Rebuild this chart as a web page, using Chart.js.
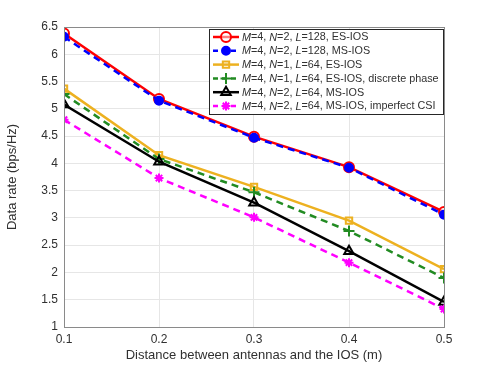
<!DOCTYPE html>
<html>
<head>
<meta charset="utf-8">
<script src="https://cdn.jsdelivr.net/npm/chart.js@4.4.1/dist/chart.umd.min.js"></script>
<style>
    html, body { margin: 0; padding: 0; background: #fff; }
    #wrap { width: 491px; height: 368px; }
</style>
</head>
<body>
<div id="wrap"><canvas id="rateChart" width="491" height="368"></canvas></div>
<script>
// distances (m)
const distances = [0.1, 0.2, 0.3, 0.4, 0.5];

// data rate (bps/Hz) for each scheme
const esIos128 = [6.38, 5.18, 4.49, 3.93, 3.11];
const msIos128 = [6.32, 5.15, 4.47, 3.92, 3.06];
const esIos64N1 = [5.37, 4.15, 3.57, 2.95, 2.06];
const esIos64Discrete = [5.27, 4.08, 3.47, 2.76, 1.90];
const msIos64 = [5.08, 4.03, 3.28, 2.39, 1.46];
const msIos64Imperfect = [4.80, 3.73, 3.01, 2.18, 1.33];

// legend pieces
const legendM = ['4', '4', '4', '4', '4', '4'];
const legendN = ['2', '2', '1', '1', '2', '2'];
const legendL = ['128', '128', '64', '64', '64', '64'];
const legendTail = ['ES-IOS', 'MS-IOS', 'ES-IOS', 'ES-IOS, discrete phase', 'MS-IOS', 'MS-IOS, imperfect CSI'];

const xTicks = [0.1, 0.2, 0.3, 0.4, 0.5];
const yTicks = [1, 1.5, 2, 2.5, 3, 3.5, 4, 4.5, 5, 5.5, 6, 6.5];

const FONT = "'Liberation Sans', Arial, sans-serif";
const TEXT = '#303030';

function series(values, color, dash, style, radius, fill) {
    return {
        data: values.map((v, i) => ({ x: distances[i], y: v })),
        borderColor: color,
        borderWidth: 2.5,
        borderDash: dash,
        pointStyle: style,
        pointRadius: radius,
        pointBorderWidth: 2,
        pointBorderColor: color,
        pointBackgroundColor: fill,
        tension: 0
    };
}

const datasets = [
    series(esIos128, '#ff0000', [], 'circle', 5, 'rgba(255,255,255,0.5)'),
    series(msIos128, '#0000ff', [7, 5], 'circle', 4, '#0000ff'),
    series(esIos64N1, '#edb120', [], 'rect', 4.5, 'rgba(0,0,0,0)'),
    series(esIos64Discrete, '#228b22', [7, 5], 'cross', 5.5, 'rgba(0,0,0,0)'),
    series(msIos64, '#000000', [], 'triangle', 5.5, 'rgba(0,0,0,0)'),
    series(msIos64Imperfect, '#ff00ff', [7, 5], 'star', 4.5, 'rgba(0,0,0,0)')
];
// later series drawn on top, like the original
datasets.forEach((d, i) => { d.order = datasets.length - i; });

// box around plot area
const boxPlugin = {
    id: 'box',
    afterDatasetsDraw(chart) {
        const a = chart.chartArea;
        const ctx = chart.ctx;
        ctx.save();
        ctx.strokeStyle = '#8a8a8a';
        ctx.lineWidth = 1;
        ctx.strokeRect(a.left + 0.5, a.top + 0.5, a.right - a.left, a.bottom - a.top);
        ctx.restore();
    }
};

// legend with italic variables
const legendPlugin = {
    id: 'mathLegend',
    afterDraw(chart) {
        const ctx = chart.ctx;
        const left = 209, top = 29, right = 443, bottom = 114;
        const rowH = 13.8;
        ctx.save();
        ctx.fillStyle = '#ffffff';
        ctx.fillRect(left, top, right - left, bottom - top);
        ctx.strokeStyle = '#262626';
        ctx.lineWidth = 1;
        ctx.strokeRect(left + 0.5, top + 0.5, right - left, bottom - top);

        chart.data.datasets.forEach((ds, i) => {
            const y = top + 8 + i * rowH;
            ctx.save();
            ctx.strokeStyle = ds.borderColor;
            ctx.lineWidth = ds.borderWidth;
            ctx.setLineDash(ds.borderDash.length ? [5, 4] : []);
            ctx.beginPath();
            ctx.moveTo(213, y);
            ctx.lineTo(239, y);
            ctx.stroke();
            ctx.setLineDash([]);
            ctx.fillStyle = ds.pointBackgroundColor;
            ctx.lineWidth = ds.pointBorderWidth;
            Chart.helpers.drawPoint(ctx, {
                pointStyle: ds.pointStyle,
                radius: ds.pointRadius,
                rotation: 0,
                borderWidth: ds.pointBorderWidth
            }, 226, y);
            ctx.restore();

            const parts = [
                ['M', true], ['=' + legendM[i] + ', ', false],
                ['N', true], ['=' + legendN[i] + ', ', false],
                ['L', true], ['=' + legendL[i] + ', ' + legendTail[i], false]
            ];
            let x = 242;
            ctx.fillStyle = TEXT;
            ctx.textBaseline = 'middle';
            ctx.textAlign = 'left';
            parts.forEach(([txt, it]) => {
                ctx.font = (it ? 'italic ' : '') + '10.8px ' + FONT;
                ctx.fillText(txt, x, y + 0.5);
                x += ctx.measureText(txt).width;
            });
        });
        ctx.restore();
    }
};

const ctx = document.getElementById('rateChart').getContext('2d');
new Chart(ctx, {
    type: 'line',
    data: { datasets: datasets },
    options: {
        responsive: false,
        animation: false,
        events: [],
        layout: { padding: { top: 27, right: 47, left: 0, bottom: 0 } },
        plugins: {
            legend: { display: false },
            tooltip: { enabled: false }
        },
        scales: {
            x: {
                type: 'linear',
                min: 0.1,
                max: 0.5,
                afterFit(scale) { scale.height = 41; },
                afterBuildTicks(scale) { scale.ticks = xTicks.map(v => ({ value: v })); },
                grid: { color: '#e6e6e6', drawTicks: false },
                border: { display: false },
                ticks: {
                    padding: 5,
                    color: TEXT,
                    font: { family: FONT, size: 12 },
                    maxRotation: 0,
                    callback: v => v.toFixed(1)
                },
                title: {
                    display: true,
                    text: 'Distance between antennas and the IOS (m)',
                    color: TEXT,
                    font: { family: FONT, size: 13 },
                    padding: { top: 0, bottom: 5 }
                }
            },
            y: {
                min: 1,
                max: 6.5,
                afterFit(scale) { scale.width = 64; },
                afterBuildTicks(scale) { scale.ticks = yTicks.map(v => ({ value: v })); },
                grid: { color: '#e6e6e6', drawTicks: false },
                border: { display: false },
                ticks: {
                    padding: 6,
                    color: TEXT,
                    font: { family: FONT, size: 12 },
                    callback: v => String(v)
                },
                title: {
                    display: true,
                    text: 'Data rate (bps/Hz)',
                    color: TEXT,
                    font: { family: FONT, size: 13 },
                    padding: { top: 5, bottom: 0 }
                }
            }
        }
    },
    plugins: [boxPlugin, legendPlugin]
});
</script>
</body>
</html>
